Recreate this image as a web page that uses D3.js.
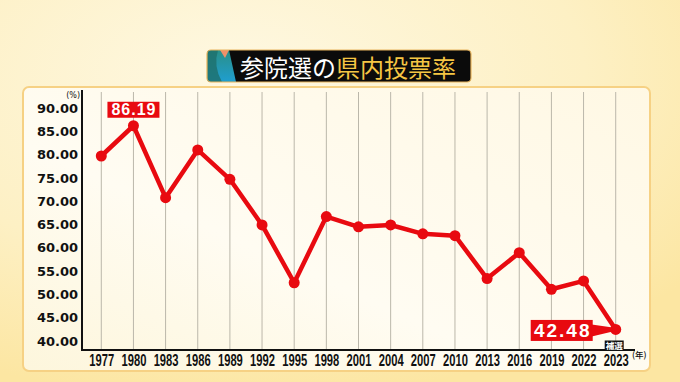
<!DOCTYPE html>
<html><head><meta charset="utf-8">
<script src="https://cdn.jsdelivr.net/npm/d3@7"></script>
<style>html,body{margin:0;padding:0;background:#fdf0c0;}svg{display:block;}</style>
</head><body>
<script>
const years = ["1977","1980","1983","1986","1989","1992","1995","1998","2001","2004","2007","2010","2013","2016","2019","2022","2023"];
const turnout = [79.7, 86.19, 70.75, 81.0, 74.7, 64.9, 52.5, 66.7, 64.5, 64.9, 63.0, 62.6, 53.4, 58.95, 51.1, 52.9, 42.48];
const yTicks = [40, 45, 50, 55, 60, 65, 70, 75, 80, 85, 90];
const titleWhite = "参院選の";
const titleGold = "県内投票率";
const labelled = ["1980", "2023"];
const byElectionYear = "2023";
const byElectionText = "補選";

const W = 680, H = 382;
const red = "#e80a10";
const svg = d3.select("body").append("svg").attr("width", W).attr("height", H);
const defs = svg.append("defs");

const bg = defs.append("radialGradient").attr("id","bg").attr("cx","0.35").attr("cy","0.2").attr("r","0.85");
bg.append("stop").attr("offset","0").attr("stop-color","#fef8e2");
bg.append("stop").attr("offset","0.6").attr("stop-color","#fdf0c4");
bg.append("stop").attr("offset","1").attr("stop-color","#fce6a2");
svg.append("rect").attr("width",W).attr("height",H).attr("fill","url(#bg)");

const pg = defs.append("linearGradient").attr("id","pg").attr("x1","0").attr("y1","1").attr("x2","1").attr("y2","0");
pg.append("stop").attr("offset","0").attr("stop-color","#fdf6dc");
pg.append("stop").attr("offset","0.4").attr("stop-color","#fffcf2");
pg.append("stop").attr("offset","1").attr("stop-color","#fff8e4");
svg.append("rect").attr("x",23).attr("y",87).attr("width",627).attr("height",284).attr("rx",6)
  .attr("fill","url(#pg)").attr("stroke","#f6d184").attr("stroke-width",2);

// Title box
const tg = svg.append("g");
defs.append("clipPath").attr("id","tclip").append("rect").attr("x",207).attr("y",50).attr("width",264).attr("height",32).attr("rx",4);
tg.append("rect").attr("x",207).attr("y",50).attr("width",264).attr("height",32).attr("rx",4).attr("fill","#0b0b0b");
const deco = tg.append("g").attr("clip-path","url(#tclip)");
const tealG = defs.append("linearGradient").attr("id","teal").attr("x1","0").attr("y1","0").attr("x2","0").attr("y2","1");
tealG.append("stop").attr("offset","0").attr("stop-color","#2a8f86");
tealG.append("stop").attr("offset","1").attr("stop-color","#1f9ed0");
deco.append("path").attr("d","M207,50 L229,50 L236,82 L207,82 Z").attr("fill","url(#teal)");
deco.append("path").attr("d","M207,50 L218,50 Q213,66 222,82 L207,82 Z").attr("fill","#1e6f6b").attr("opacity",0.8);
deco.append("path").attr("d","M220,50 L229,50 L225,58 Z").attr("fill","#f0906a");
tg.append("rect").attr("x",207).attr("y",50).attr("width",264).attr("height",32).attr("rx",4)
  .attr("fill","none").attr("stroke","#e8b45c").attr("stroke-width",1.2);
const tt = tg.append("text").attr("x",240).attr("y",66).attr("dominant-baseline","central")
  .attr("font-family","'Noto Sans CJK JP'").attr("font-weight",400).attr("font-size",24);
tt.append("tspan").attr("fill","#ffffff").text(titleWhite);
tt.append("tspan").attr("fill","#f5c644").text(titleGold);

// Scales
const x = d3.scalePoint().domain(years).range([82, 635]).padding(0.6);
const y = d3.scaleLinear().domain([40, 90]).range([341, 108]);
const axisY = 350;

// Gridlines
svg.append("g").selectAll("line").data(years).join("line")
  .attr("x1", d => x(d)).attr("x2", d => x(d)).attr("y1", 92).attr("y2", axisY)
  .attr("stroke","#bbb7aa").attr("stroke-width",1);

// Y axis
const ya = svg.append("g").attr("transform","translate(82,0)")
  .call(d3.axisLeft(y).tickValues(yTicks).tickFormat(d3.format(".2f")).tickSize(0).tickPadding(4));
ya.select(".domain").remove();
ya.selectAll("text").attr("font-family","'DejaVu Sans'").attr("font-weight","bold").attr("font-size",13).attr("fill","#111");
svg.append("line").attr("x1",82).attr("x2",82).attr("y1",90).attr("y2",axisY+1).attr("stroke","#111").attr("stroke-width",2);
svg.append("text").attr("x",80).attr("y",98).attr("text-anchor","end").attr("font-family","'DejaVu Sans'")
  .attr("font-size",8).attr("fill","#111").text("(%)");

// X axis
const xa = svg.append("g").attr("transform",`translate(0,${axisY})`)
  .call(d3.axisBottom(x).tickSize(0).tickPadding(5));
xa.select(".domain").remove();
xa.selectAll("text").attr("font-family","'Liberation Sans'").attr("font-weight","bold")
  .attr("font-size",16).attr("fill","#111").attr("transform","scale(0.7,1)");
svg.append("line").attr("x1",81).attr("x2",635).attr("y1",axisY).attr("y2",axisY).attr("stroke","#111").attr("stroke-width",2);
svg.append("text").attr("x",632).attr("y",358).attr("font-family","'Noto Sans CJK JP'")
  .attr("font-size",8.5).attr("font-weight",500).attr("fill","#111").text("(年)");

// Line + dots
const line = d3.line().x((d,i) => x(years[i])).y(d => y(d));
svg.append("path").datum(turnout).attr("d", line).attr("fill","none").attr("stroke",red)
  .attr("stroke-width",4.5).attr("stroke-linejoin","round");
svg.append("g").selectAll("circle").data(turnout).join("circle")
  .attr("cx",(d,i) => x(years[i])).attr("cy", d => y(d)).attr("r",5.5).attr("fill",red);

// Label 1980 (above)
{
  const i = years.indexOf(labelled[0]);
  const cx = x(years[i]), cy = y(turnout[i]);
  svg.append("rect").attr("x",cx-26).attr("y",cy-24).attr("width",52).attr("height",16).attr("fill",red);
  svg.append("text").attr("x",cx+0.5).attr("y",cy-16).attr("dominant-baseline","central").attr("text-anchor","middle")
    .attr("font-family","'Liberation Sans'").attr("font-weight","bold").attr("font-size",16).attr("letter-spacing",1)
    .attr("fill","#fff").text(turnout[i].toFixed(2));
}
// Label 2023 (left callout)
{
  const i = years.indexOf(labelled[1]);
  const cx = x(years[i]), cy = y(turnout[i]);
  svg.append("rect").attr("x",cx-85).attr("y",cy-9.5).attr("width",62).attr("height",21).attr("fill",red);
  svg.append("path").attr("d",`M${cx-24},${cy-5} L${cx-3},${cy-2} L${cx-3},${cy+2} L${cx-24},${cy+7} Z`).attr("fill",red);
  svg.append("text").attr("x",cx-53).attr("y",cy+1).attr("dominant-baseline","central").attr("text-anchor","middle")
    .attr("font-family","'Liberation Sans'").attr("font-weight","bold").attr("font-size",19).attr("letter-spacing",2)
    .attr("fill","#fff").text(turnout[i].toFixed(2));
}
// 補選 tag
{
  const bx = x(byElectionYear);
  svg.append("rect").attr("x",bx-11).attr("y",340.5).attr("width",19).attr("height",9.5).attr("fill","#111");
  svg.append("text").attr("x",bx-1.5).attr("y",345).attr("dominant-baseline","central").attr("text-anchor","middle")
    .attr("font-family","'Noto Sans CJK JP'").attr("font-weight","bold").attr("font-size",8.5).attr("fill","#fff").text(byElectionText);
}
</script>
</body></html>
